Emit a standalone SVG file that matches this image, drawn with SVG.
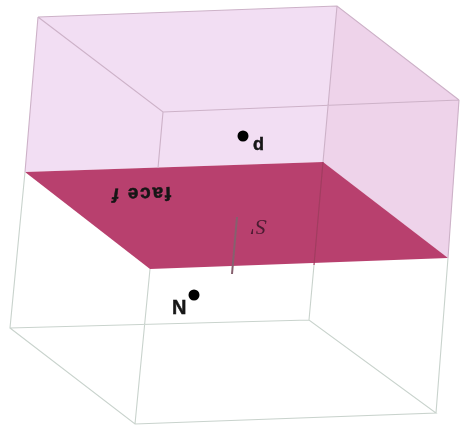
<svg xmlns="http://www.w3.org/2000/svg" width="460" height="426" viewBox="0 0 460 426">
<defs><filter id="soft" x="-5%" y="-5%" width="110%" height="110%"><feGaussianBlur stdDeviation="0.45"/></filter></defs>
<style>
.edge{fill:none;stroke:#c9d3cd;stroke-width:1.1}
.upper{fill:none;stroke:#cdb2c8;stroke-width:1.1}
.lab{font-family:"Liberation Sans",Arial,sans-serif;font-weight:bold;fill:#161616;stroke:#161616;stroke-width:0.5}
</style>
<rect width="460" height="426" fill="#ffffff"/>
<g filter="url(#soft)">
<g id="volume-shading">
<polygon points="38,17 337,6 459,100 448,258 323,162 25,172" fill="#f2def3"/>
<polygon points="337,6 459,100 448,258 323,162" fill="#eed3ea"/>
</g>
<g id="face">
<polygon points="25,172 323,162 448,258 150,269" fill="#b8416e"/>
<text class="lab" transform="rotate(178 141 194)" x="141" y="200" font-size="19" letter-spacing="1.8" text-anchor="middle">face <tspan font-style="italic">f</tspan></text>
</g>
<g id="connectors">
<path class="upper" d="M38,17L337,6L459,100M38,17L163,112L459,100M163,112L158,168M337,6L323,162M38,17L25,172M459,100L448,258"/>
<path class="edge" d="M25,172L10,328L309,320L436,413L135,424L10,328M150,269L135,424M314,265L309,320M448,258L436,413"/>
<path d="M323,162L314,265" fill="none" stroke="#a13c60" stroke-width="1.2"/>
<path d="M237,217L232,274" fill="none" stroke="#86606e" stroke-width="2"/>
</g>
<g id="point-p">
<circle cx="243" cy="136" r="5.5" fill="#000"/>
<text class="lab" x="253" y="150" font-size="18">d</text>
</g>
<g id="point-N">
<circle cx="194" cy="295" r="5.5" fill="#000"/>
<text class="lab" x="172" y="314" font-size="20">N</text>
</g>
<g id="label-s">
<text transform="rotate(180 259 227)" x="259" y="234" font-family="Liberation Serif,serif" font-style="italic" font-size="22" text-anchor="middle" fill="#4a1a30">S'</text>
</g>
</g>
</svg>
